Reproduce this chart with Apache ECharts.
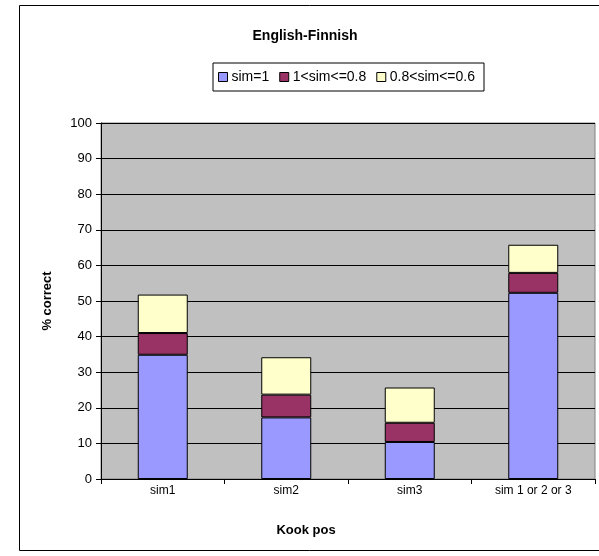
<!DOCTYPE html>
<html>
<head>
<meta charset="utf-8">
<script src="https://cdn.jsdelivr.net/npm/echarts@6/dist/echarts.min.js"></script>
<style>
  html, body { margin: 0; padding: 0; background: #fff; }
  #chart { width: 599px; height: 556px; }
</style>
</head>
<body>
<div id="chart"></div>
<script>
// Kook pos categories and the three similarity bands (% correct)
const categories = ['sim1', 'sim2', 'sim3', 'sim 1 or 2 or 3'];
const simEq1 = [34.9, 17.3, 10.4, 52.3];
const sim1to08 = [6.1, 6.4, 5.4, 5.6];
const sim08to06 = [10.8, 10.5, 9.9, 7.9];
const seriesNames = ['sim=1', '1<sim<=0.8', '0.8<sim<=0.6'];
const yTicks = { min: 0, max: 100, step: 10 };

const FONT = 'Arial, "Liberation Sans", sans-serif';
const colors = ['#9999FF', '#993366', '#FFFFCC'];

const chart = echarts.init(document.getElementById('chart'), null, { renderer: 'canvas' });

function barSeries(name, data, color) {
  return {
    name: name,
    type: 'bar',
    stack: 'total',
    data: data,
    barWidth: 50,
    itemStyle: { color: color, borderColor: '#000', borderWidth: 1 },
    emphasis: { disabled: true }
  };
}

chart.setOption({
  animation: false,
  backgroundColor: '#fff',
  color: colors,
  textStyle: { fontFamily: FONT, color: '#000' },
  title: [
    {
      text: 'English-Finnish',
      left: 300, top: 24, textAlign: 'center',
      textStyle: { fontFamily: FONT, fontSize: 14, fontWeight: 'bold', color: '#000' }
    },
    {
      text: 'Kook pos',
      left: 301, top: 519, textAlign: 'center',
      textStyle: { fontFamily: FONT, fontSize: 13, fontWeight: 'bold', color: '#000' }
    }
  ],
  legend: {
    data: seriesNames,
    left: 213, top: 63,
    padding: [7, 9, 7, 5],
    itemGap: 10,
    itemWidth: 9, itemHeight: 9,
    icon: 'rect',
    borderColor: '#000', borderWidth: 1,
    itemStyle: { borderColor: '#000', borderWidth: 1 },
    textStyle: { fontFamily: FONT, fontSize: 14, color: '#000', padding: [0, 0, 0, -1] },
    selectedMode: false
  },
  grid: {
    left: 101, top: 123, width: 494, height: 356,
    show: true, backgroundColor: '#C0C0C0', borderColor: '#808080', borderWidth: 1,
    containLabel: false
  },
  xAxis: {
    type: 'category',
    data: categories,
    boundaryGap: true,
    axisLine: { show: true, lineStyle: { color: '#000', width: 1 } },
    axisTick: { show: true, alignWithLabel: false, length: 5, lineStyle: { color: '#000' } },
    axisLabel: { margin: 6, fontFamily: FONT, fontSize: 12, color: '#000' },
    splitLine: { show: false }
  },
  yAxis: {
    type: 'value',
    min: yTicks.min, max: yTicks.max, interval: yTicks.step,
    name: '% correct',
    nameLocation: 'middle',
    nameGap: 47,
    nameRotate: 90,
    nameTextStyle: { fontFamily: FONT, fontSize: 13, fontWeight: 'bold', color: '#000' },
    axisLine: { show: true, lineStyle: { color: '#000', width: 1 } },
    axisTick: { show: true, length: 5, lineStyle: { color: '#000' } },
    axisLabel: { margin: 9, fontFamily: FONT, fontSize: 13, color: '#000' },
    splitLine: { show: true, lineStyle: { color: '#000', width: 1 } }
  },
  graphic: [
    {
      type: 'rect',
      shape: { x: 19.5, y: 5.5, width: 620, height: 545 },
      style: { fill: 'none', stroke: '#000', lineWidth: 1 },
      silent: true
    }
  ],
  series: [
    barSeries(seriesNames[0], simEq1, colors[0]),
    barSeries(seriesNames[1], sim1to08, colors[1]),
    barSeries(seriesNames[2], sim08to06, colors[2])
  ]
});
</script>
</body>
</html>
